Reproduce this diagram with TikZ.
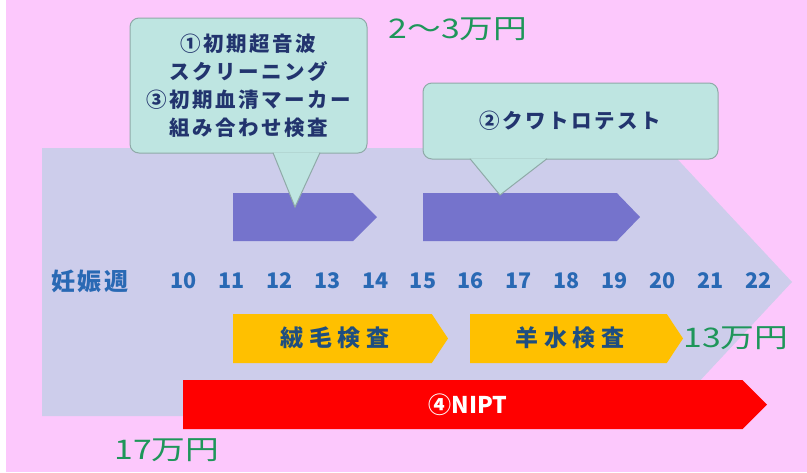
\documentclass[tikz,border=0pt]{standalone}
\usepackage{fontspec}
\setmainfont{Noto Sans CJK JP}
\newfontfamily\spacedjp{Noto Sans CJK JP}[LetterSpace=12]
\newfontfamily\widejp{Noto Sans CJK JP}[LetterSpace=25]
\usepackage{tikz}
\usetikzlibrary{positioning, shapes.symbols}

\definecolor{pagepink}{HTML}{FCC8FC}
\definecolor{weekband}{HTML}{CDCDEB}
\definecolor{scanbar}{HTML}{7573CC}
\definecolor{bubblefill}{HTML}{BEE5E1}
\definecolor{bubbleline}{HTML}{8FAAA8}
\definecolor{bubbletext}{HTML}{22346E}
\definecolor{weekblue}{HTML}{2969B4}
\definecolor{costgreen}{HTML}{1E965A}
\definecolor{invasive}{HTML}{FFC000}
\definecolor{invtext}{HTML}{1F4E80}

\tikzset{
    band/.style={signal, signal to=east, signal from=nowhere,
        anchor=west, inner sep=0pt, outer sep=0pt},
    bubble/.style={draw=bubbleline, fill=bubblefill, line width=1pt,
        rounded corners=9pt, inner sep=0pt, text=bubbletext,
        align=center, font=\fontsize{20.5}{28}\spacedjp\bfseries},
    weeknum/.style={text=weekblue, font=\fontsize{21.5}{24}\selectfont\bfseries},
    invlabel/.style={text=invtext, font=\fontsize{23}{26}\widejp\bfseries},
    cost/.style={text=costgreen, font=\fontsize{27}{30}\selectfont}
}

\begin{document}
\begin{tikzpicture}[x=1pt, y=-1pt]

        \useasboundingbox (0,0) rectangle (807,472);
        \fill[pagepink] (6,0) rectangle (807,472);

        % Week band

        \node [band,
        fill=weekband,
        minimum width=750pt,
        minimum height=268pt,
        signal pointer angle=94
            ] (weeks) at (42,282) {};

        \node [weeknum, font=\fontsize{24}{26}\spacedjp\bfseries] (wlabel) at (90,281) {妊娠週};
        \foreach \w [count=\i from 0] in {10,...,22}
            \node [weeknum] (w\w) at ({183.5+\i*47.9},281) {\w};

        % Screening bars

        \node [band,
        fill=scanbar,
        minimum width=144pt,
        minimum height=48pt,
        signal pointer angle=90
            ] (early) at (233,217) {};

        \node [band,
        fill=scanbar,
        minimum width=217pt,
        minimum height=48pt,
        signal pointer angle=92
            ] (quad) at (423,217) {};

        % Invasive tests

        \node [band,
        fill=invasive,
        minimum width=215pt,
        minimum height=49pt,
        signal pointer angle=113
            ] (cvs) at (233,338.5) {};
        \node [invlabel] (cvslabel) at (335,338) {絨毛検査};

        \node [band,
        fill=invasive,
        minimum width=213pt,
        minimum height=49pt,
        signal pointer angle=113
            ] (amnio) at (470,338.5) {};
        \node [invlabel] (amniolabel) at (570,338) {羊水検査};

        \node [band,
        fill=red,
        minimum width=584pt,
        minimum height=49pt,
        signal pointer angle=90
            ] (nipt) at (183,404.5) {};
        \node [text=white, font=\fontsize{23}{26}\selectfont\bfseries] (niptlabel) at (468,405) {④NIPT};

        % Callouts

        \node [bubble,
        minimum width=237pt,
        minimum height=135pt
            ] (scan) at (248.5,85.5) {①初期超音波\\スクリーニング\\③初期血清マーカー\\組み合わせ検査};
        \coordinate (scantip) at (295,207);
        \fill[bubblefill] ([xshift=24.5pt,yshift=0.8pt]scan.south) -- (scantip)
            -- ([xshift=71.5pt,yshift=0.8pt]scan.south) -- cycle;
        \draw[bubbleline, line width=1pt] ([xshift=24.5pt,yshift=0.8pt]scan.south)
            -- (scantip) -- ([xshift=71.5pt,yshift=0.8pt]scan.south);

        \node [bubble,
        minimum width=295pt,
        minimum height=76pt
            ] (quadtest) at (570.5,121) {②クワトロテスト};
        \coordinate (quadtip) at (500,195);
        \fill[bubblefill] ([xshift=-100.5pt,yshift=0.8pt]quadtest.south) -- (quadtip)
            -- ([xshift=-23.5pt,yshift=0.8pt]quadtest.south) -- cycle;
        \draw[bubbleline, line width=1pt] ([xshift=-100.5pt,yshift=0.8pt]quadtest.south)
            -- (quadtip) -- ([xshift=-23.5pt,yshift=0.8pt]quadtest.south);

        % Costs

        \node [cost] (costquad) at (458,29) {\scalebox{1.25}[1]{2〜3万円}};
        \node [cost, right=-3pt of amnio.east] (costamnio) {\scalebox{1.25}[1]{13万円}};
        \node [cost] (costnipt) at (167,450) {\scalebox{1.25}[1]{17万円}};

\end{tikzpicture}
\end{document}
